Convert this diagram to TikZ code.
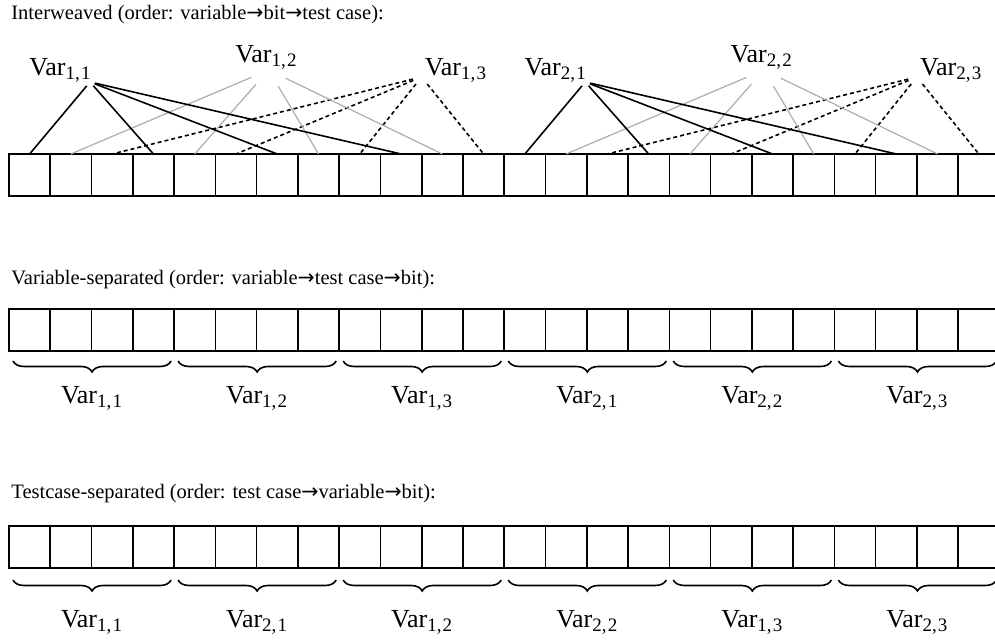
\documentclass[tikz,border=0pt]{standalone}
\usepackage{fontspec}
\setmainfont{Liberation Serif}
\newfontfamily\arrfont{DejaVu Sans}
\usetikzlibrary{decorations.pathreplacing}
\newcommand{\varlab}[2]{Var\raisebox{-2pt}{\fontsize{9.5}{10}\selectfont #1,\kern0.6pt#2}}
\newcommand{\ordarrow}{{\arrfont →}}

\begin{document}
\begin{tikzpicture}[x=0.5pt,y=-0.5pt,
  cell/.style={draw,line width=0.8pt,minimum width=20.63pt,minimum height=21pt,inner sep=0pt,outer sep=0pt},
  title/.style={anchor=base west,inner sep=0pt,font=\fontsize{10.25}{12}\selectfont},
  var/.style={anchor=base,inner sep=0pt,font=\fontsize{13}{15}\selectfont},
  hub/.style={circle,inner sep=0pt,outer sep=0pt},
  bone/.style={line width=0.8pt},
  btwo/.style={line width=0.6pt,black!32},
  bthree/.style={line width=0.8pt,dash pattern=on 2pt off 1.5pt},
  brc/.style={decorate,decoration={brace,mirror,amplitude=5.5pt},line width=0.8pt}]
\useasboundingbox (0,0) rectangle (995,640);
\clip (0,0) rectangle (995,640);

\node[title] (t1) at (11,20) {Interweaved (order: variable\ordarrow bit\ordarrow test case):};
\node[title] (t2) at (11,285) {Variable-separated (order: variable\ordarrow test case\ordarrow bit):};
\node[title] (t3) at (11,499) {Testcase-separated (order: test case\ordarrow variable\ordarrow bit):};

\foreach \i in {1,...,24}{
  \node[cell] (a\i) at ({9+(\i-0.5)*41.27},175) {};
  \node[cell] (b\i) at ({9+(\i-0.5)*41.27},330) {};
  \node[cell] (c\i) at ({9+(\i-0.5)*41.27},547) {};
}

\foreach \g in {1,2}{
  \pgfmathsetmacro\off{(\g-1)*495.24}
  \node[var] (v\g1) at (60+\off,76) {\varlab{\g}{1}};
  \node[var] (v\g2) at (266+\off,63) {\varlab{\g}{2}};
  \node[var] (v\g3) at (455.5+\off,76) {\varlab{\g}{3}};
  \node[hub,minimum size=5pt] (h\g1) at (90+\off,82) {};
  \node[hub,minimum size=19pt] (h\g2) at (268.6+\off,70) {};
  \node[hub,minimum size=9pt] (h\g3) at (421.6+\off,77) {};
  \foreach \k in {0,...,3}{
    \pgfmathtruncatemacro\n{(\g-1)*12+3*\k+1}
    \pgfmathtruncatemacro\m{\n+1}
    \pgfmathtruncatemacro\p{\n+2}
    \draw[bone] (h\g1) -- (a\n.north);
    \draw[btwo] (h\g2) -- (a\m.north);
    \draw[bthree] (h\g3) -- (a\p.north);
  }
}

\foreach \j/\s/\t/\u/\w in {0/1/1/1/1,1/1/2/2/1,2/1/3/1/2,3/2/1/2/2,4/2/2/1/3,5/2/3/2/3}{
  \pgfmathtruncatemacro\f{4*\j+1}
  \pgfmathtruncatemacro\l{4*\j+4}
  \draw[brc] ([xshift=2pt,yshift=-5pt]b\f.south west) -- ([xshift=-1.5pt,yshift=-5pt]b\l.south east);
  \draw[brc] ([xshift=2pt,yshift=-6pt]c\f.south west) -- ([xshift=-1.5pt,yshift=-6pt]c\l.south east);
  \node[var] (p\j) at ({9+(4*\j+2)*41.27},404) {\varlab{\s}{\t}};
  \node[var] (q\j) at ({9+(4*\j+2)*41.27},627) {\varlab{\u}{\w}};
}
\end{tikzpicture}
\end{document}
